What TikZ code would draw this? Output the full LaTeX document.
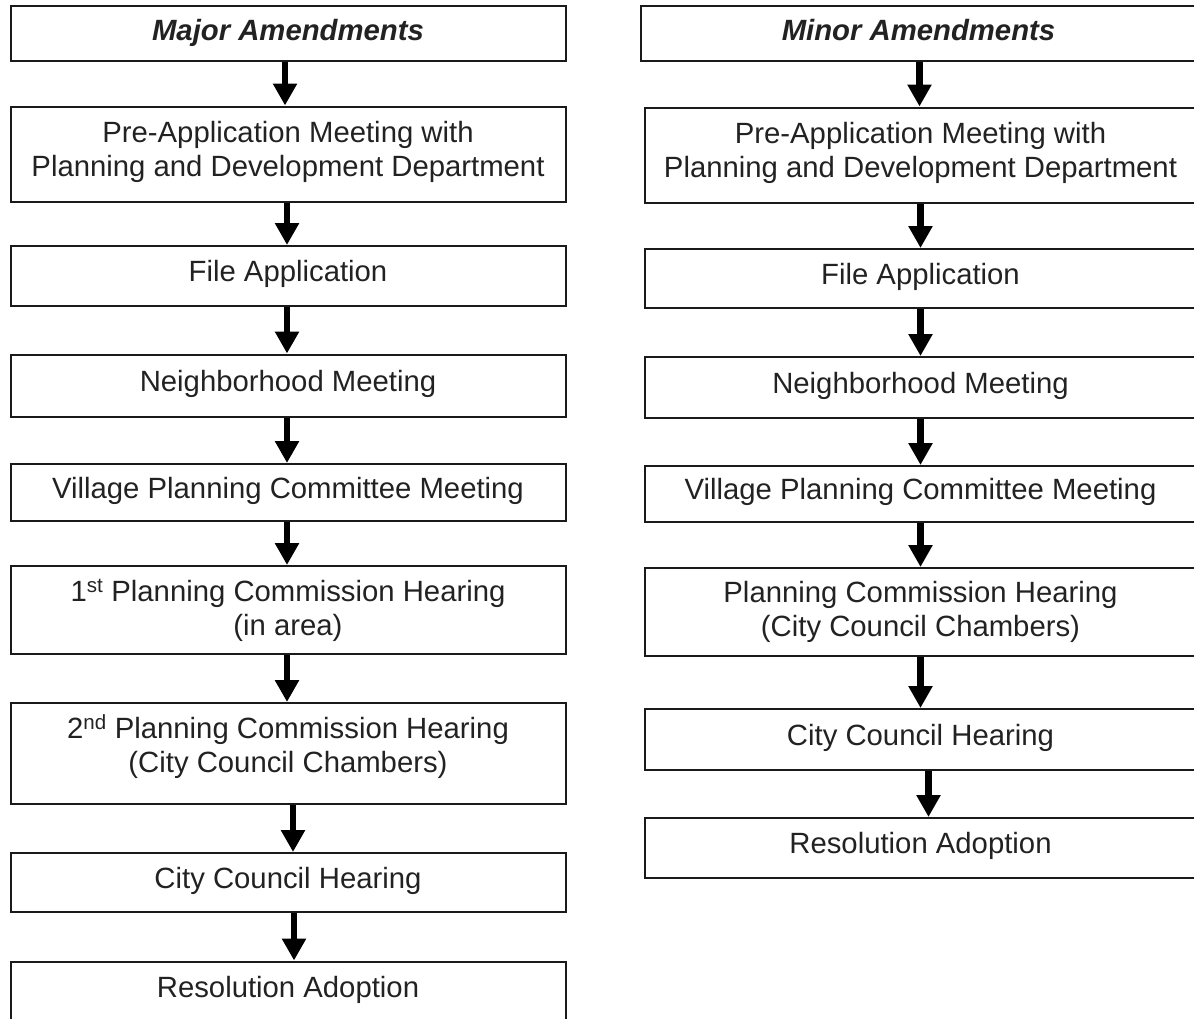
\documentclass[tikz,border=0pt]{standalone}
\usepackage{fontspec}
\setmainfont{Liberation Sans}
\usetikzlibrary{arrows.meta}
\definecolor{ink}{HTML}{1A1A1A}
\definecolor{txt}{HTML}{222222}
\tikzset{
  stepbox/.style={draw=ink, line width=2pt, rectangle, inner sep=0pt, align=center,
    text=txt, font=\fontsize{29.3}{34}\selectfont},
  lbox/.style={stepbox, minimum width=555pt},
  rbox/.style={stepbox, minimum width=552pt},
  oneline/.style={text height=17pt, text depth=6pt},
  headline/.style={text height=21pt, text depth=6pt},
  arr/.style={draw=black, line width=6.5pt, -{Triangle[width=23pt,length=22pt]}},
}
\begin{document}
\begin{tikzpicture}[x=1pt,y=-1pt]
\useasboundingbox (0,0) rectangle (1194,1018);
% left column
\node[lbox, headline, minimum height=55pt] (L0) at (288,33) {\textbf{\textit{Major Amendments}}};
\node[lbox, text depth=10pt, minimum height=95pt] (L1) at (288,154) {Pre-Application Meeting with\\Planning and Development Department};
\node[lbox, oneline, minimum height=60pt] (L2) at (288,276) {File Application};
\node[lbox, oneline, minimum height=62pt] (L3) at (288,385.5) {Neighborhood Meeting};
\node[lbox, oneline, minimum height=57pt] (L4) at (288,492.5) {Village Planning Committee Meeting};
\node[lbox, minimum height=88pt] (L5) at (288,610) {1\textsuperscript{st} Planning Commission Hearing\\(in area)};
\node[lbox, text depth=19pt, minimum height=101pt] (L6) at (288,753.5) {2\textsuperscript{nd} Planning Commission Hearing\\(City Council Chambers)};
\node[lbox, oneline, minimum height=59pt] (L7) at (288,882.5) {City Council Hearing};
\node[lbox, oneline, minimum height=60pt] (L8) at (288,991.5) {Resolution Adoption};
% right column
\node[rbox, headline, minimum width=555pt, minimum height=55pt] (R0) at (918.5,33) {\textbf{\textit{Minor Amendments}}};
\node[rbox, text depth=10pt, minimum height=95pt] (R1) at (920.5,155) {Pre-Application Meeting with\\Planning and Development Department};
\node[rbox, oneline, minimum height=59pt] (R2) at (920.5,278.5) {File Application};
\node[rbox, oneline, minimum height=61pt] (R3) at (920.5,387.5) {Neighborhood Meeting};
\node[rbox, oneline, minimum height=56pt] (R4) at (920.5,494) {Village Planning Committee Meeting};
\node[rbox, minimum height=88pt] (R5) at (920.5,612) {Planning Commission Hearing\\(City Council Chambers)};
\node[rbox, oneline, minimum height=61pt] (R6) at (920.5,739.5) {City Council Hearing};
\node[rbox, oneline, minimum height=60pt] (R7) at (920.5,848) {Resolution Adoption};
% left arrows
\draw[arr] ([xshift=-3pt]L0.south) -- ([xshift=-3pt]L1.north);
\draw[arr] ([xshift=-1pt]L1.south) -- ([xshift=-1pt]L2.north);
\draw[arr] ([xshift=-1pt]L2.south) -- ([xshift=-1pt]L3.north);
\draw[arr] ([xshift=-1pt]L3.south) -- ([xshift=-1pt]L4.north);
\draw[arr] ([xshift=-1pt]L4.south) -- ([xshift=-1pt]L5.north);
\draw[arr] ([xshift=-1pt]L5.south) -- ([xshift=-1pt]L6.north);
\draw[arr] ([xshift=5pt]L6.south) -- ([xshift=5pt]L7.north);
\draw[arr] ([xshift=6pt]L7.south) -- ([xshift=6pt]L8.north);
% right arrows
\draw[arr] ([xshift=1pt]R0.south) -- ([xshift=-1pt]R1.north);
\draw[arr] (R1.south) -- (R2.north);
\draw[arr] (R2.south) -- (R3.north);
\draw[arr] (R3.south) -- (R4.north);
\draw[arr] (R4.south) -- (R5.north);
\draw[arr] (R5.south) -- (R6.north);
\draw[arr] ([xshift=8pt]R6.south) -- ([xshift=8pt]R7.north);
\end{tikzpicture}
\end{document}
